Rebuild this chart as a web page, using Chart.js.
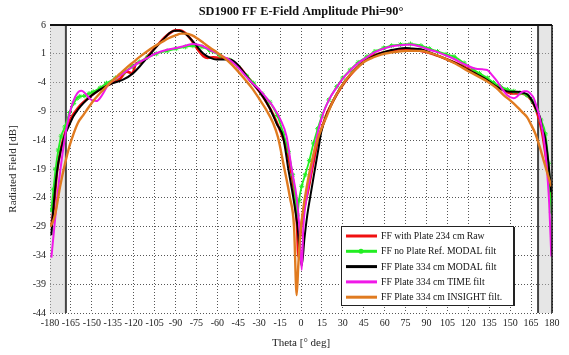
<!DOCTYPE html>
<html>
<head>
<script src="https://cdn.jsdelivr.net/npm/chart.js"></script>
<style>
    body { margin: 0; padding: 0; background: #fff; }
    #wrap { width: 569px; height: 355px; position: relative; }
</style>
</head>
<body>
<div id="wrap"><canvas id="chart" width="569" height="355"></canvas></div>
<script>
// Tick labels / axis settings
const thetaTicks = [-180, -165, -150, -135, -120, -105, -90, -75, -60, -45, -30, -15, 0, 15, 30, 45, 60, 75, 90, 105, 120, 135, 150, 165, 180];
const dbTicks = [6, 1, -4, -9, -14, -19, -24, -29, -34, -39, -44];

// FF with Plate 234 cm Raw (red)
const rawTheta = [-179, -177, -175, -172, -169, -165, -160, -155, -150, -145, -140, -135, -130, -125, -121, -118, -115, -110, -104, -98, -94, -90, -87, -83, -78, -73, -70, -67, -63, -58, -52, -48, -44, -40, -36, -30, -25, -20, -15, -11, -7, -4.5, -2.8, -1.9, -0.8, 1, 3, 5.3, 8, 10, 12, 14.5, 18.5, 23, 28, 35, 42, 50, 57, 64, 72, 80, 88, 95, 105, 115, 125, 135, 145, 152, 158, 163, 167, 170, 173, 176, 179.5];
const rawDb = [-29, -25, -19.5, -15.3, -12.6, -10.2, -8.4, -7.2, -6.2, -5.3, -4.6, -4.0, -3.4, -2.1, -2.4, -0.6, -0.6, 0.6, 2.2, 3.8, 4.6, 5.1, 5.1, 4.6, 3.2, 1.4, 0.6, 0.3, 0.4, 0.3, 0.1, -0.5, -1.3, -2.5, -3.7, -5.5, -7.3, -9.5, -12.3, -15, -19.5, -24, -29, -34.2, -31, -27.5, -25, -22.5, -19, -16.5, -14, -12.2, -9.4, -7.2, -5.1, -2.8, -1.0, 0.5, 1.1, 1.5, 1.8, 1.7, 1.4, 0.9, 0.0, -1.0, -2.3, -3.7, -5.3, -5.9, -5.9, -6.4, -7.8, -9.8, -12.8, -17.5, -24];

// FF no Plate Ref. MODAL filt (green)
const refTheta = [-179, -177.5, -176, -174, -172, -169.3, -166, -163, -160.5, -158.6, -155, -152, -149, -144, -139.5, -133, -127.6, -121, -115.7, -110, -103.8, -96, -89.5, -83, -77.5, -71, -65.5, -58, -51.1, -45, -39, -34, -28, -22.3, -17, -12.7, -9, -6, -4, -2.6, -1.5, 0.5, 3, 6, 9, 12, 15, 20, 25.7, 30, 35.3, 41, 47.3, 53, 59.3, 65, 71.3, 78.5, 86, 92, 97.9, 104, 109.8, 117, 124, 128, 133.6, 138, 143.1, 148, 152.6, 157, 162.1, 166, 169.3, 172, 175.2, 177.5, 179.5];
const refDb = [-26.1, -22.5, -19, -15.7, -13.3, -11.7, -9.2, -7.6, -6.7, -6.4, -6.3, -5.9, -5.6, -4.9, -4.1, -3.2, -2.3, -1.2, -0.4, 0.4, 1.0, 1.5, 1.9, 2.2, 2.4, 2.2, 1.6, 0.7, -0.1, -1.3, -2.8, -4.1, -5.9, -7.4, -9.7, -12.8, -16, -20, -24, -27, -24.5, -22, -20, -17.5, -14.5, -12, -9.8, -7, -4.7, -3.2, -1.8, -0.5, 0.5, 1.4, 2.0, 2.4, 2.6, 2.7, 2.4, 1.9, 1.4, 0.9, 0.5, -0.6, -1.8, -2.4, -3.2, -4.0, -4.7, -5.2, -5.5, -5.8, -6.2, -7.2, -8.8, -10.5, -12.9, -18, -26.5];

// FF Plate 334 cm MODAL filt (black)
const modalTheta = [-179, -178, -175, -172, -169.3, -166, -163.3, -160, -156.2, -151, -146.7, -141, -134.8, -127.6, -120.5, -115.7, -110, -103.8, -99, -94.3, -90.7, -87.1, -82, -76.3, -70.3, -65, -60.7, -51.1, -47, -43.9, -36.7, -29.5, -22.3, -17.5, -12.7, -9.1, -5.5, -2.5, 0.5, 2.5, 4.5, 6.5, 10, 12.5, 14.5, 18.5, 23, 28.1, 35, 40.1, 46, 52.1, 58, 64, 70, 75, 80, 86, 92, 100, 109, 120, 133, 139, 145, 150, 155, 160, 163, 166, 169, 171.4, 173, 175, 177, 179.5];
const modalDb = [-30.5, -27, -19.5, -15.5, -13.1, -11.3, -9.9, -8.7, -7.6, -6.4, -5.6, -4.8, -4.1, -3.5, -2.4, -1.2, 0.4, 2.2, 3.4, 4.6, 5.0, 5.0, 4.3, 2.8, 1.1, 0.3, 0.0, 0.0, -0.5, -1.3, -3.6, -5.6, -8.5, -11.1, -13.6, -19, -24, -29, -35.8, -31, -27, -24, -19, -15.5, -12.6, -9.6, -7.2, -5.0, -2.7, -1.4, -0.2, 0.6, 1.2, 1.6, 1.9, 2.0, 1.9, 1.8, 1.3, 0.5, -0.4, -1.8, -3.5, -4.5, -5.3, -5.6, -5.6, -5.8, -6.2, -7.3, -8.8, -10, -12, -13.5, -17, -23];

// FF Plate 334 cm TIME filt (magenta)
const timeTheta = [-179, -177.1, -174, -171, -168, -165, -162, -159.5, -157.4, -155, -151, -146.7, -143, -138.3, -133, -127.6, -121, -115.7, -110, -103.8, -96, -89.5, -83, -77.5, -71, -65.5, -58, -51.1, -45, -39.1, -34, -29.5, -24, -19.9, -15, -10.3, -6.7, -3.1, -1.2, 0.5, 1.7, 4, 7.5, 10.5, 12.5, 16, 20, 25.7, 30, 35.3, 41, 47.3, 53, 59.3, 65, 71.3, 78.5, 86, 92, 97.9, 104, 109.8, 117, 124, 130, 133.6, 137, 140.7, 144, 147.9, 152.6, 155, 157.4, 160, 162.1, 164.5, 166.9, 168.7, 170.5, 172.3, 174, 176, 178, 179.5];
const timeDb = [-34.4, -29.6, -22.1, -16.3, -11.7, -8.5, -6.5, -5.6, -5.4, -5.8, -6.9, -7.2, -6.3, -4.4, -3.3, -2.4, -1.3, -0.4, 0.3, 1.1, 1.7, 2.0, 2.4, 2.7, 2.4, 1.7, 0.8, -0.1, -1.4, -3.0, -4.3, -5.3, -6.9, -8.2, -10.3, -13.4, -19, -24, -29, -36.5, -29, -24, -19, -14.5, -12.2, -9.3, -7.0, -4.8, -3.3, -1.9, -0.6, 0.4, 1.3, 1.9, 2.3, 2.5, 2.6, 2.2, 1.7, 1.3, 0.7, 0.1, -0.8, -1.5, -1.7, -1.8, -2.7, -3.8, -5.0, -6.2, -6.7, -6.4, -5.8, -5.5, -5.5, -5.9, -6.7, -8, -9.4, -11.3, -13.5, -18, -25, -34.2];

// FF Plate 334 cm INSIGHT filt. (orange)
const insightTheta = [-179.5, -176.4, -172.8, -169.2, -166, -163, -160, -156, -152, -148, -144, -140, -135, -130, -125, -120, -115, -110, -105, -100, -95, -90, -86, -82, -78, -74, -70, -65, -60, -55, -50, -45, -40, -35, -30, -25, -20, -16.5, -12.7, -7.9, -5, -3.1, -2, -0.7, 1, 4.1, 8.9, 12, 15, 18.5, 23, 28.1, 34, 40.1, 46, 52.1, 58, 64.1, 70, 76.1, 82, 86, 92, 100, 109.8, 120, 133.6, 140, 145.5, 150, 155, 159, 162.1, 165, 168.1, 171, 174, 177, 179.5];
const insightDb = [-29, -27, -22.1, -18, -15, -12.8, -11, -9.6, -8.2, -6.9, -5.8, -4.8, -3.6, -2.5, -1.4, -0.4, 0.6, 1.5, 2.3, 3.0, 3.7, 4.2, 4.5, 4.5, 4.2, 3.6, 2.9, 2.0, 1.2, 0.3, -0.8, -2.1, -3.5, -5.0, -6.8, -8.7, -11, -13.5, -18, -24, -29, -40.9, -36, -30.8, -27, -22.1, -16.5, -13.8, -11.8, -9.8, -7.2, -5.0, -3.0, -1.5, -0.3, 0.4, 0.9, 1.2, 1.4, 1.5, 1.5, 1.5, 1.2, 0.5, -0.6, -2.0, -3.8, -4.9, -6.2, -7.1, -8.2, -9.2, -10, -11.3, -12.9, -15, -17.5, -20, -22];

const seriesLabels = [
    'FF with Plate 234 cm Raw',
    'FF no Plate Ref. MODAL filt',
    'FF Plate 334 cm MODAL filt',
    'FF Plate 334 cm TIME filt',
    'FF Plate 334 cm INSIGHT filt.'
];
const seriesColors = ['#f01010', '#22ee22', '#000000', '#f018e8', '#e07b20'];

function pts(xs, ys) {
    return xs.map((x, i) => ({ x: x, y: ys[i] }));
}

const serif = '"Liberation Serif", "DejaVu Serif", serif';

// grey side bands, frame, title and legend
const decorPlugin = {
    id: 'decor',
    beforeDatasetsDraw(chart) {
        const { ctx, chartArea: a, scales: { x } } = chart;
        ctx.save();
        const l1 = x.getPixelForValue(-168.6);
        const r1 = x.getPixelForValue(170);
        ctx.fillStyle = 'rgba(200,200,200,0.45)';
        ctx.fillRect(a.left, a.top, l1 - a.left, a.bottom - a.top);
        ctx.fillRect(r1, a.top, a.right - r1, a.bottom - a.top);
        ctx.strokeStyle = '#444';
        ctx.lineWidth = 2;
        ctx.beginPath();
        ctx.moveTo(l1, a.top); ctx.lineTo(l1, a.bottom);
        ctx.moveTo(r1, a.top); ctx.lineTo(r1, a.bottom);
        ctx.stroke();
        ctx.restore();
    },
    afterDraw(chart) {
        const { ctx, chartArea: a } = chart;
        ctx.save();
        // frame
        ctx.strokeStyle = '#111';
        ctx.lineWidth = 2;
        ctx.beginPath();
        ctx.moveTo(a.left, a.top); ctx.lineTo(a.right, a.top);
        ctx.stroke();
        ctx.lineWidth = 1.5;
        ctx.beginPath();
        ctx.moveTo(a.right, a.top); ctx.lineTo(a.right, a.bottom);
        ctx.stroke();

        // title
        ctx.fillStyle = '#111';
        ctx.font = 'bold 12.3px ' + serif;
        ctx.textAlign = 'center';
        ctx.textBaseline = 'middle';
        ctx.fillText('SD1900 FF E-Field Amplitude Phi=90°', (a.left + a.right) / 2, 12);

        // legend box
        const bx = 341, by = 226, bw = 172, bh = 79;
        ctx.fillStyle = '#fff';
        ctx.fillRect(bx, by, bw, bh);
        ctx.strokeStyle = '#222';
        ctx.lineWidth = 1;
        ctx.strokeRect(bx + 0.5, by + 0.5, bw, bh);
        ctx.lineWidth = 2;
        ctx.beginPath();
        ctx.moveTo(bx + bw + 1, by + 1); ctx.lineTo(bx + bw + 1, by + bh + 1);
        ctx.stroke();
        ctx.font = '9.7px ' + serif;
        ctx.textAlign = 'left';
        seriesLabels.forEach((lab, i) => {
            const ry = by + 10 + i * 15.3;
            ctx.strokeStyle = seriesColors[i];
            ctx.lineWidth = 3;
            ctx.beginPath();
            ctx.moveTo(bx + 5, ry); ctx.lineTo(bx + 36, ry);
            ctx.stroke();
            if (i === 1) {
                ctx.fillStyle = seriesColors[i];
                ctx.beginPath();
                ctx.arc(bx + 20, ry, 2.5, 0, Math.PI * 2);
                ctx.fill();
            }
            ctx.fillStyle = '#111';
            ctx.fillText(lab, bx + 40, ry + 0.5);
        });
        ctx.restore();
    }
};

const datasets = [
    { d: pts(rawTheta, rawDb), w: 2.6, order: 4 },
    { d: pts(refTheta, refDb), w: 1.8, order: 3 },
    { d: pts(modalTheta, modalDb), w: 2.0, order: 2 },
    { d: pts(timeTheta, timeDb), w: 2.0, order: 1 },
    { d: pts(insightTheta, insightDb), w: 2.4, order: 0 }
].map((s, i) => ({
    label: seriesLabels[i],
    data: s.d,
    borderColor: seriesColors[i],
    backgroundColor: seriesColors[i],
    borderWidth: s.w,
    order: s.order,
    cubicInterpolationMode: 'monotone',
    pointRadius: i === 1 ? 2.5 : 0,
    pointStyle: i === 1 ? 'star' : 'circle',
    pointBorderWidth: 1,
    fill: false
}));

new Chart(document.getElementById('chart'), {
    type: 'line',
    data: { datasets: datasets },
    options: {
        responsive: false,
        animation: false,
        events: [],
        layout: { padding: { left: 0, right: 17, top: 25, bottom: 0 } },
        plugins: {
            legend: { display: false },
            tooltip: { enabled: false },
            title: { display: false }
        },
        scales: {
            x: {
                type: 'linear',
                min: -180,
                max: 180,
                afterBuildTicks: (scale) => { scale.ticks = thetaTicks.map(v => ({ value: v })); },
                afterFit: (scale) => { scale.height = 42; },
                ticks: { color: '#222', font: { family: serif, size: 10 }, padding: 4, maxRotation: 0, autoSkip: false },
                grid: { color: '#555', borderDash: [1, 2], drawTicks: false },
                border: { display: false, dash: [1, 2] },
                title: { display: true, text: 'Theta [° deg]', color: '#222', font: { family: serif, size: 11 }, padding: { top: 0, bottom: 5 } }
            },
            y: {
                type: 'linear',
                min: -44,
                max: 6,
                afterBuildTicks: (scale) => { scale.ticks = dbTicks.map(v => ({ value: v })); },
                afterFit: (scale) => { scale.width = 50; },
                ticks: { color: '#222', font: { family: serif, size: 10 }, padding: 4, autoSkip: false },
                grid: { color: '#555', borderDash: [1, 2], drawTicks: false },
                border: { display: false, dash: [1, 2] },
                title: { display: true, text: 'Radiated Field [dB]', color: '#222', font: { family: serif, size: 11 }, padding: { top: 7, bottom: 0 } }
            }
        }
    },
    plugins: [decorPlugin]
});
</script>
</body>
</html>
